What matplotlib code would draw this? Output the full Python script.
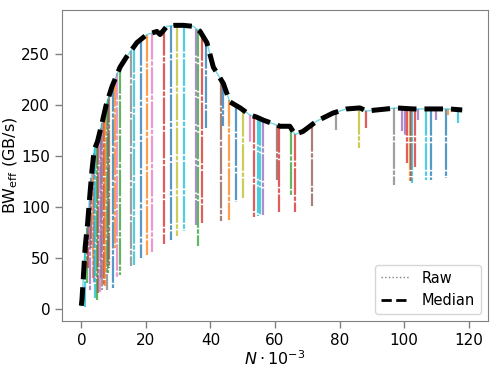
import numpy as np
import matplotlib
matplotlib.use('Agg')
import matplotlib.pyplot as plt
from matplotlib.lines import Line2D

# median bandwidth curve (N in thousands, GB/s)
median_n = [0, 0.2, 0.7, 1.2, 1.95, 2.6, 3.3, 4.0, 5.0, 6.4, 7.7, 9.5, 12, 14, 17.2,
            20.3, 23.4, 24.4, 26.5, 29, 31.6, 34.7, 36.8, 38.9, 40.9, 44, 46, 49.2,
            52.3, 54.3, 56.4, 59, 61.6, 64.6, 66.2, 68.7, 72.9, 78, 82.2, 86.3, 88.4,
            94.6, 97.6, 102.8, 106, 110, 114, 118]
median_bw = [3, 9, 35, 61, 84, 110, 136, 156, 164, 182, 200, 218, 237, 247, 261,
             269, 272, 269, 277, 278, 278, 277, 272, 261, 237, 221, 203, 197,
             190, 188, 185, 182, 179, 179, 171, 174, 184, 192, 196, 197, 194,
             196, 197, 196, 196, 196, 196, 195]

# raw runs: position and lowest measured bandwidth
raw_n = [0.3, 1.2, 1.8, 2.2, 2.8, 3.1, 3.5, 3.9, 4.3, 4.9, 5.3, 5.7, 6.0, 6.4, 7.0, 7.4,
         7.9, 8.3, 8.6, 9.7, 10.4, 11.2, 12.1, 15.4, 16.4, 18.5, 20.3, 21.9, 25.7, 27.7,
         29.6, 31.9, 35.6, 36.0, 37.3, 38.7, 43.2, 43.8, 45.8, 47.9, 50.0, 52.3, 53.5,
         54.8, 55.4, 56.2, 60.5, 61.3, 65.0, 66.2, 71.4, 78.9, 86.1, 88.2, 96.8, 99.5,
         100.3, 100.9, 101.8, 102.3, 102.6, 103.4, 104.3, 106.7, 108.3, 110.0, 113.1,
         113.6, 116.7]
raw_low = [3, 2, 25, 40, 17, 60, 30, 25, 10.5, 9, 15, 16, 30, 18.6, 22, 22,
           18.6, 35, 40, 20, 60, 30, 33, 41.5, 43, 49.7, 53, 56, 63.4, 67.6,
           71, 76, 82, 62, 84, 177, 85.6, 179, 87, 105, 108.5, 163, 90.5,
           91, 92, 92, 126.5, 95.4, 112, 95.4, 101, 175.5, 157.5, 177, 121.6, 174,
           170, 143, 125, 125, 123.5, 139.5, 185, 126.5, 126.5, 185, 128,
           190, 182]
raw_colors = ['C7', 'C9', 'C2', 'C3', 'C4', 'C5', 'C1', 'C4', 'C9', 'C2', 'C5', 'C6', 'C4', 'C7',
              'C3', 'C1', 'C7', 'C2', 'C5', 'C0', 'C1', 'C6', 'C2', 'C7', 'C9', 'C0', 'C1',
              'C6', 'C3', 'C0', 'C8', 'C9', 'C4', 'C2', 'C3', 'C0', 'C5', 'C0', 'C1', 'C0',
              'C8', 'C6', 'C3', 'C9', 'C9', 'C4', 'C5', 'C3', 'C2', 'C3', 'C5', 'C7', 'C8',
              'C3', 'C7', 'C4', 'C4', 'C3', 'C1', 'C3', 'C9', 'C3', 'C4', 'C9', 'C0', 'C4',
              'C0', 'C1', 'C9']

fig = plt.figure(figsize=(4.99, 3.68), dpi=100)
ax = fig.add_axes([0.1242, 0.1277, 0.8537, 0.845])

# raw runs drop from the median level down to their minimum
raw_top = np.interp(raw_n, median_n, median_bw)
for n, top, low, c in zip(raw_n, raw_top, raw_low, raw_colors):
    ax.plot([n, n], [top, low], color=c, linestyle=(0, (12, 0.7, 2, 0.7)),
            linewidth=1.6, alpha=0.75)

ax.plot(median_n, median_bw, color='#17becf', linewidth=1.0, alpha=0.6)
ax.plot(median_n, median_bw, color='black', linestyle='--', linewidth=3.6)

ax.set_xlim(-6, 126)
ax.set_ylim(-12, 293)
ax.set_xticks([0, 20, 40, 60, 80, 100, 120])
ax.set_yticks([0, 50, 100, 150, 200, 250])

for s in ax.spines.values():
    s.set_color('#808080')
ax.tick_params(colors='#808080', labelcolor='black', labelsize=11, length=5, width=1)

ax.set_xlabel(r'$N \cdot 10^{-3}$', fontsize=11.5, labelpad=1)
ax.set_ylabel(r'BW$_\mathrm{eff}$ (GB/s)', fontsize=11.5, labelpad=1)

handles = [Line2D([], [], color='gray', linestyle=':', linewidth=1),
           Line2D([], [], color='black', linestyle='--', linewidth=2)]
ax.legend(handles, ['Raw', 'Median'], loc='lower right', fontsize=10.5)

fig.savefig('out.png', dpi=100)
